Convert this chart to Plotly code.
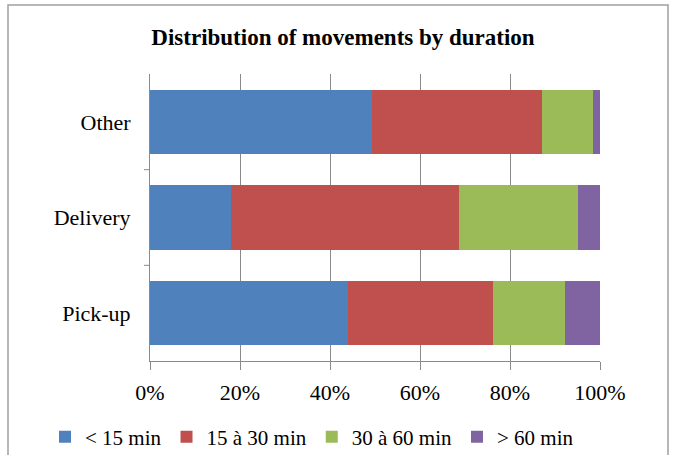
import plotly.graph_objects as go

categories = ["Pick-up", "Delivery", "Other"]
series_names = ["< 15 min", "15 à 30 min", "30 à 60 min", "> 60 min"]
lt15 = [43.9, 17.9, 49.3]
m15_30 = [32.4, 50.8, 37.7]
m30_60 = [16.0, 26.3, 11.5]
gt60 = [7.7, 5.0, 1.5]
colors = ["#4F81BD", "#C0504D", "#9BBB59", "#8064A2"]
tick_vals = [0, 20, 40, 60, 80, 100]
tick_text = ["0%", "20%", "40%", "60%", "80%", "100%"]

FONT = "Liberation Serif"
GRID = "#8a8a8a"
L, R, T, B = 150, 600, 74, 361
W, H = 675, 455
PW, PH = R - L, B - T

fig = go.Figure()
for name, vals, col in zip(series_names, [lt15, m15_30, m30_60, gt60], colors):
    fig.add_trace(go.Bar(y=categories, x=vals, name=name, orientation="h",
                         marker=dict(color=col, line=dict(width=0))))

fig.update_layout(
    barmode="stack", bargap=0.33,
    width=W, height=H,
    margin=dict(l=L, r=W - R, t=T, b=H - B, autoexpand=False),
    paper_bgcolor="white", plot_bgcolor="white",
    font=dict(family=FONT, size=22, color="black"),
    title=dict(text="<b>Distribution of movements by duration</b>", x=343 / W, xanchor="center",
               y=1 - 37 / H, yanchor="middle", font=dict(family=FONT, size=23)),
    showlegend=True,
    legend=dict(orientation="h", x=(45 - L) / PW, xanchor="left",
                y=(B - 437) / PH, yanchor="middle",
                font=dict(family=FONT, size=21), traceorder="normal", itemwidth=30,
                bgcolor="rgba(0,0,0,0)"),
    xaxis=dict(range=[0, 100], tickvals=tick_vals, ticktext=tick_text,
               showgrid=True, gridcolor=GRID, gridwidth=1,
               showline=True, linecolor=GRID, linewidth=1,
               ticks="outside", ticklen=8, tickcolor=GRID, zeroline=False,
               tickfont=dict(family=FONT, size=22), ticklabelstandoff=4),
    yaxis=dict(showline=True, linecolor=GRID, linewidth=1,
               ticks="", showgrid=False, tickfont=dict(family=FONT, size=22),
               ticklabelstandoff=14),
)
# category separator tick marks on the y axis
for yb in [0.5, 1.5]:
    fig.add_shape(type="line", xref="paper", yref="y", x0=-6 / PW, x1=0, y0=yb, y1=yb,
                  line=dict(color=GRID, width=1))
# outer chart border
fig.add_shape(type="rect", xref="paper", yref="paper",
              x0=(8 - L) / PW, x1=(668 - L) / PW, y0=(B - 470) / PH, y1=(B - 5) / PH,
              line=dict(color="#a0a0a0", width=1.5), fillcolor="rgba(0,0,0,0)", layer="below")
fig.write_html("out.html", config={"displayModeBar": False},
               post_script="document.body.style.margin='0';")
